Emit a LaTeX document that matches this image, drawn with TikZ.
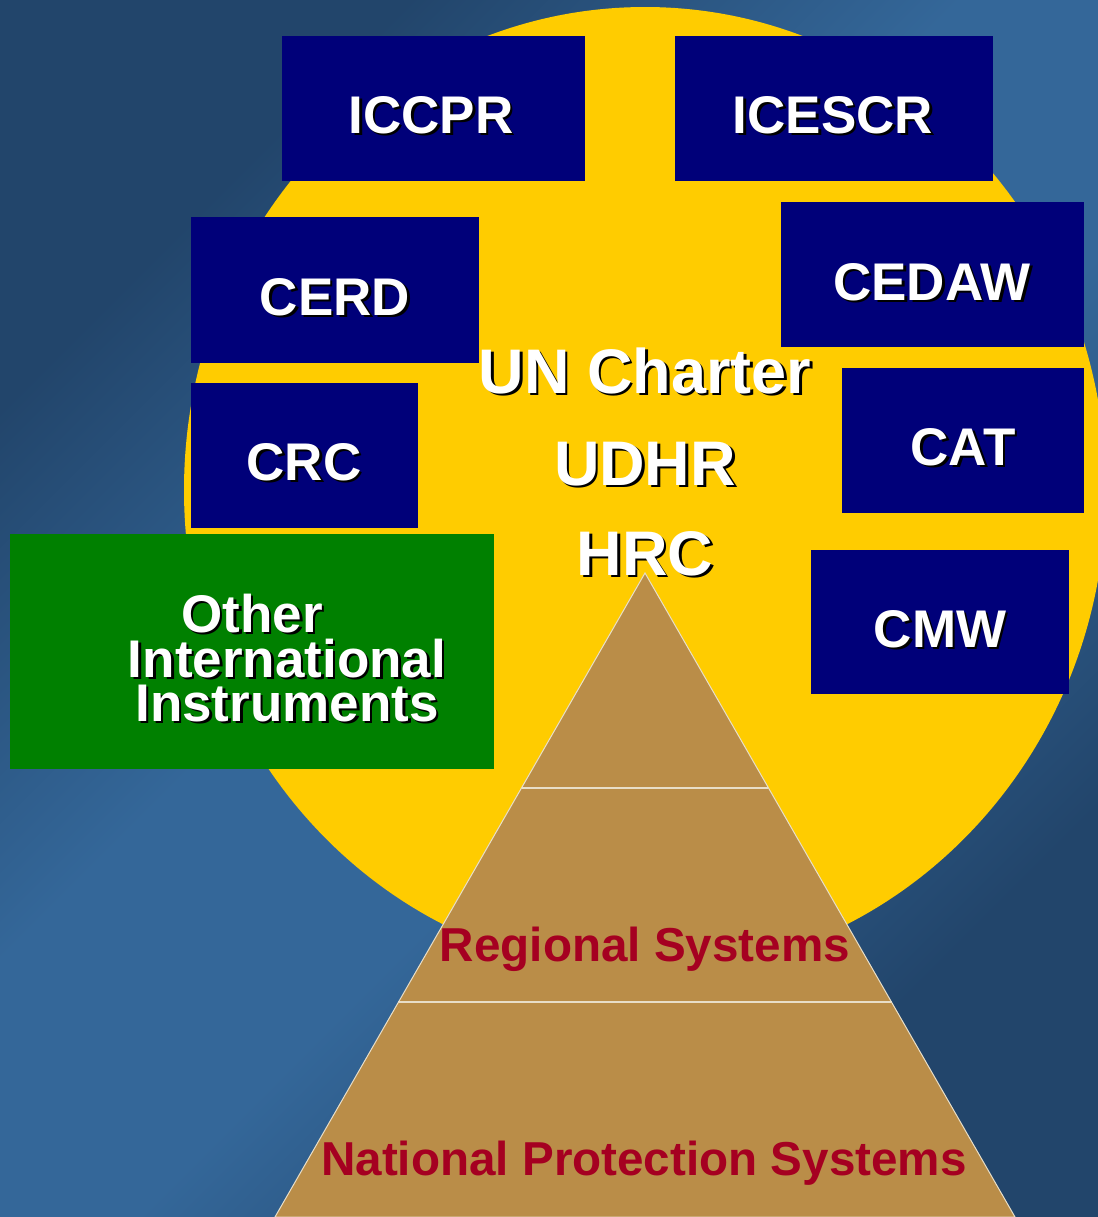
\documentclass[tikz,border=0pt]{standalone}
\usepackage{fontspec}
\setmainfont{Liberation Sans}
\usepackage{tikz}
\usetikzlibrary{calc,positioning}

\definecolor{bgdark}{HTML}{22456B}
\definecolor{bglight}{HTML}{346799}
\definecolor{sunyellow}{HTML}{FFCC00}
\definecolor{treatynavy}{HTML}{000079}
\definecolor{othergreen}{HTML}{008000}
\definecolor{pyrtan}{HTML}{BA8D48}
\definecolor{sysred}{HTML}{A50021}
\definecolor{pyrline}{HTML}{E8DEC8}

\pgfdeclareverticalshading{backdrop}{100bp}{%
  color(0bp)=(bgdark); color(27bp)=(bgdark); color(44bp)=(bglight);
  color(56bp)=(bglight); color(73bp)=(bgdark); color(100bp)=(bgdark)}

\newcommand{\shadowlabel}[4][]{%
  \node[#1, text=black, xshift=1.3pt, yshift=-1.3pt] (#2s) at (#3) {#4};
  \node[#1, text=white] (#2) at (#3) {#4};}

\tikzset{
  treaty/.style={fill=treatynavy, inner sep=0pt},
  boxtext/.style={anchor=base, inner sep=0pt, font=\fontsize{26.5}{30}\selectfont\bfseries},
  coretext/.style={anchor=base, inner sep=0pt, font=\fontsize{31.5}{36}\selectfont\bfseries},
  systext/.style={anchor=base, inner sep=0pt, text=sysred, font=\fontsize{23.8}{28}\selectfont\bfseries},
}

\begin{document}
\begin{tikzpicture}[x=0.5pt,y=-0.5pt]
    \useasboundingbox (0,0) rectangle (1098,1217);
    \shade[shading=backdrop, shading angle=45] (0pt,0pt) rectangle (549pt,-608.5pt);
    \fill[sunyellow] (645,490) ellipse [x radius=230.5pt, y radius=241.5pt];

    \coordinate (apex) at (645,573);
    \coordinate (pl) at (275,1217);
    \coordinate (pr) at (1015,1217);
    \filldraw[fill=pyrtan, draw=pyrline, line width=0.5pt] (apex) -- (pl) -- (pr) -- cycle;
    \draw[pyrline, line width=0.9pt] ($(apex)!1/3!(pl)$) -- ($(apex)!1/3!(pr)$);
    \draw[pyrline, line width=0.9pt] ($(apex)!2/3!(pl)$) -- ($(apex)!2/3!(pr)$);

    \node[treaty, minimum width=151.5pt, minimum height=72.5pt] (iccpr) at (433.5,108.5) {};
    \node[treaty, minimum width=159pt, minimum height=72.5pt] (icescr) at (834,108.5) {};
    \node[treaty, minimum width=144pt, minimum height=73pt] (cerd) at (335,290) {};
    \node[treaty, minimum width=151.5pt, minimum height=72.5pt] (cedaw) at (932.5,274.5) {};
    \node[treaty, minimum width=113.5pt, minimum height=72.5pt] (crc) at (304.5,455.5) {};
    \node[treaty, minimum width=121pt, minimum height=72.5pt] (cat) at (963,440.5) {};
    \node[treaty, minimum width=129pt, minimum height=72pt] (cmw) at (940,622) {};
    \node[fill=othergreen, inner sep=0pt, minimum width=242pt, minimum height=117.5pt] (other) at (252,651.5) {};

    \shadowlabel[boxtext]{iccprlbl}{431,133}{ICCPR}
    \shadowlabel[boxtext]{icescrlbl}{833,133}{ICESCR}
    \shadowlabel[boxtext]{cerdlbl}{335,315}{CERD}
    \shadowlabel[boxtext]{cedawlbl}{932,300}{CEDAW}
    \shadowlabel[boxtext]{crclbl}{304,480}{CRC}
    \shadowlabel[boxtext]{catlbl}{963,465}{CAT}
    \shadowlabel[boxtext]{cmwlbl}{940,647}{CMW}
    \shadowlabel[boxtext]{otherlbla}{252,632}{Other}
    \shadowlabel[boxtext]{otherlblb}{287,677}{International}
    \shadowlabel[boxtext]{otherlblc}{287,721}{Instruments}

    \shadowlabel[coretext]{charter}{645,393}{UN Charter}
    \shadowlabel[coretext]{udhr}{645,485}{UDHR}
    \shadowlabel[coretext]{hrc}{645,575}{HRC}

    \node[systext] (regional) at (645,961) {Regional Systems};
    \node[systext] (national) at (644,1175) {National Protection Systems};
\end{tikzpicture}
\end{document}
